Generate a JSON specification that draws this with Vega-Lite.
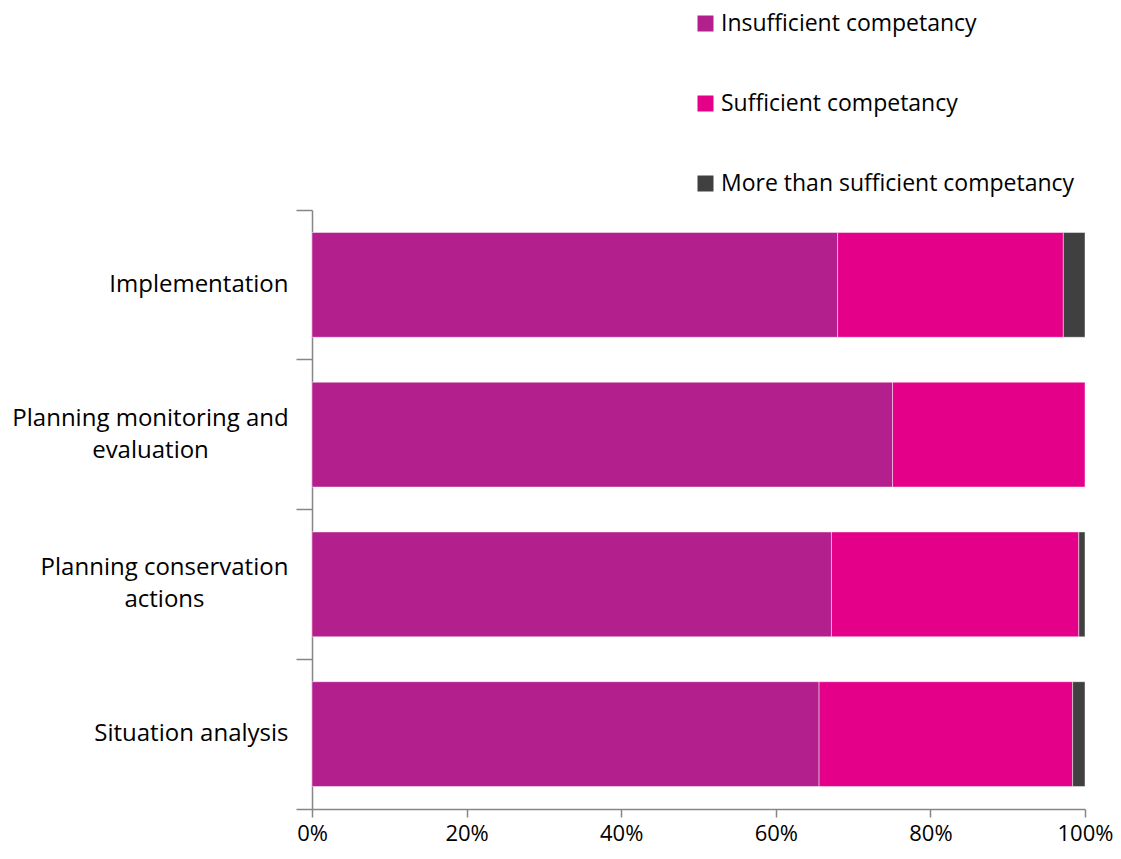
{
  "$schema": "https://vega.github.io/schema/vega-lite/v6.json",
  "autosize": "none",
  "width": 773,
  "height": 599,
  "padding": {"left": 312, "top": 210, "right": 36, "bottom": 50},
  "background": "white",
  "data": {
    "values": [
      {"area": "Implementation", "level": "Insufficient competancy", "pct": 68.0},
      {"area": "Implementation", "level": "Sufficient competancy", "pct": 29.2},
      {"area": "Implementation", "level": "More than sufficient competancy", "pct": 2.8},
      {"area": "Planning monitoring and evaluation", "level": "Insufficient competancy", "pct": 75.1},
      {"area": "Planning monitoring and evaluation", "level": "Sufficient competancy", "pct": 24.9},
      {"area": "Planning conservation actions", "level": "Insufficient competancy", "pct": 67.2},
      {"area": "Planning conservation actions", "level": "Sufficient competancy", "pct": 32.0},
      {"area": "Planning conservation actions", "level": "More than sufficient competancy", "pct": 0.8},
      {"area": "Situation analysis", "level": "Insufficient competancy", "pct": 65.6},
      {"area": "Situation analysis", "level": "Sufficient competancy", "pct": 32.8},
      {"area": "Situation analysis", "level": "More than sufficient competancy", "pct": 1.6}
    ]
  },
  "transform": [
    {"calculate": "indexof(['Insufficient competancy','Sufficient competancy','More than sufficient competancy'], datum.level)", "as": "stackOrder"}
  ],
  "mark": {"type": "bar", "height": {"band": 0.7}, "stroke": "white", "strokeWidth": 1, "strokeOpacity": 0.45},
  "encoding": {
    "y": {
      "field": "area",
      "type": "nominal",
      "sort": ["Implementation", "Planning monitoring and evaluation", "Planning conservation actions", "Situation analysis"],
      "scale": {"paddingInner": 0, "paddingOuter": 0},
      "axis": {
        "title": null,
        "bandPosition": 1,
        "tickExtra": true,
        "tickSize": 16,
        "tickColor": "#868686",
        "tickWidth": 1.5,
        "domainColor": "#868686",
        "domainWidth": 1.5,
        "labelAlign": {
          "condition": {"test": "datum.value == 'Planning monitoring and evaluation' || datum.value == 'Planning conservation actions'", "value": "center"},
          "value": "right"
        },
        "labelPadding": {
          "condition": [
            {"test": "datum.value == 'Planning monitoring and evaluation'", "value": 146},
            {"test": "datum.value == 'Planning conservation actions'", "value": 132}
          ],
          "value": 8
        },
        "labelOffset": {
          "condition": {"test": "datum.value == 'Planning monitoring and evaluation' || datum.value == 'Planning conservation actions'", "value": -16},
          "value": 0
        },
        "labelFont": "Open Sans",
        "labelFontSize": 24,
        "labelColor": "#000000",
        "labelLimit": 400,
        "labelLineHeight": 32,
        "labelExpr": "datum.label == 'Planning monitoring and evaluation' ? ['Planning monitoring and', 'evaluation'] : datum.label == 'Planning conservation actions' ? ['Planning conservation', 'actions'] : datum.label"
      }
    },
    "x": {
      "field": "pct",
      "type": "quantitative",
      "stack": "normalize",
      "scale": {"domain": [0, 1], "nice": false},
      "axis": {
        "title": null,
        "format": ".0%",
        "values": [0, 0.2, 0.4, 0.6, 0.8, 1],
        "grid": false,
        "tickSize": 8,
        "tickColor": "#868686",
        "tickWidth": 1.5,
        "domainColor": "#868686",
        "domainWidth": 1.5,
        "labelPadding": 6,
        "labelFont": "Open Sans",
        "labelFontSize": 22,
        "labelColor": "#000000",
        "labelFlush": false,
        "labelOverlap": false
      }
    },
    "color": {
      "field": "level",
      "type": "nominal",
      "scale": {
        "domain": ["Insufficient competancy", "Sufficient competancy", "More than sufficient competancy"],
        "range": ["#B41F8E", "#E5008A", "#404040"]
      },
      "legend": {
        "title": null,
        "orient": "none",
        "legendX": 382,
        "legendY": -198,
        "symbolType": "square",
        "symbolSize": 256,
        "symbolStrokeWidth": 0,
        "symbolOpacity": 1,
        "labelFont": "Open Sans",
        "labelFontSize": 23,
        "labelColor": "#000000",
        "labelOffset": 4,
        "labelLimit": 500,
        "rowPadding": 56
      }
    },
    "order": {"field": "stackOrder", "type": "quantitative"}
  },
  "config": {"view": {"stroke": null}}
}
